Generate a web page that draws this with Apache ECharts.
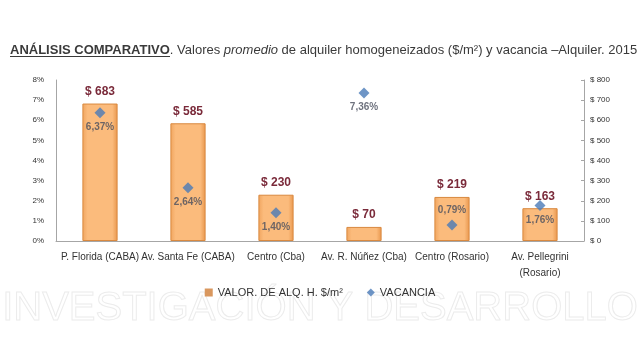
<!DOCTYPE html>
<html><head><meta charset="utf-8">
<script src="https://cdn.jsdelivr.net/npm/echarts@6/dist/echarts.min.js"></script>
<style>html,body{margin:0;padding:0;background:#fff}#c{width:640px;height:345px}</style>
</head><body><div id="c"></div>
<script>
const categories = ['P. Florida (CABA)', 'Av. Santa Fe (CABA)', 'Centro (Cba)', 'Av. R. Núñez (Cba)', 'Centro (Rosario)', 'Av. Pellegrini\n(Rosario)'];
const valorAlq = [683, 585, 230, 70, 219, 163];
const vacancia = [6.37, 2.64, 1.40, 7.36, 0.79, 1.76];
const vacLabelPos = ['bottom', 'bottom', 'bottom', 'bottom', 'top', 'bottom'];
const leftTicks = [0, 1, 2, 3, 4, 5, 6, 7, 8];
const rightTicks = [0, 100, 200, 300, 400, 500, 600, 700, 800];

const FONT = '"Liberation Sans", sans-serif';
const chart = echarts.init(document.getElementById('c'));
chart.setOption({
  animation: false,
  textStyle: { fontFamily: FONT },
  title: {
    left: 5, top: 39,
    text: '{b|ANÁLISIS COMPARATIVO}{n|. Valores }{i|promedio}{n| de alquiler homogeneizados ($/m²) y vacancia –Alquiler. 2015}',
    textStyle: {
      fontWeight: 'normal',
      rich: {
        b: { fontFamily: FONT, fontSize: 13, fontWeight: 'bold', color: '#3a3a3a' },
        n: { fontFamily: FONT, fontSize: 13, fontWeight: 'normal', color: '#3a3a3a' },
        i: { fontFamily: FONT, fontSize: 13, fontWeight: 'normal', color: '#3a3a3a', fontStyle: 'italic' }
      }
    }
  },
  graphic: [{
    type: 'text', left: 'center', top: 288, z: -1,
    style: { text: 'INVESTIGACIÓN Y DESARROLLO', font: '40px ' + FONT, fill: 'rgba(255,255,255,0)', stroke: '#ececec', lineWidth: 1 }
  }, {
    type: 'rect', left: 10, top: 56, shape: { width: 160, height: 1 }, style: { fill: '#3a3a3a' }
  }],
  legend: {
    bottom: 42, left: 'center', itemGap: 24, itemWidth: 8, itemHeight: 8,
    textStyle: { fontFamily: FONT, fontSize: 11, color: '#333' },
    data: [
      { name: 'VALOR. DE ALQ. H. $/m²', icon: 'rect', itemStyle: { color: '#d9975e', borderWidth: 0 } },
      { name: 'VACANCIA', icon: 'diamond', itemStyle: { color: '#4a7ab8' } }
    ]
  },
  grid: { left: 56, right: 56, top: 80, bottom: 104 },
  xAxis: {
    type: 'category', data: categories,
    axisLine: { lineStyle: { color: '#a6a6a6' } },
    axisTick: { show: false },
    axisLabel: { color: '#333', fontSize: 10, fontFamily: FONT, margin: 8, interval: 0, lineHeight: 16 }
  },
  yAxis: [{
    type: 'value', min: 0, max: 8, interval: 1, position: 'left',
    axisLine: { show: true, lineStyle: { color: '#a6a6a6' } },
    axisTick: { show: false },
    splitLine: { show: false },
    axisLabel: { color: '#333', fontSize: 8, fontFamily: FONT, margin: 12, formatter: v => leftTicks.includes(v) ? v + '%' : '' }
  }, {
    type: 'value', min: 0, max: 800, interval: 100, position: 'right',
    axisLine: { show: true, lineStyle: { color: '#a6a6a6' } },
    axisTick: { show: true, inside: true, length: 3, lineStyle: { color: '#a6a6a6' } },
    splitLine: { show: false },
    axisLabel: { color: '#333', fontSize: 8, fontFamily: FONT, margin: 6, formatter: v => rightTicks.includes(v) ? '$ ' + v : '' }
  }],
  series: [{
    name: 'VALOR. DE ALQ. H. $/m²', type: 'bar', yAxisIndex: 1, data: valorAlq, barWidth: '40%',
    itemStyle: {
      color: new echarts.graphic.LinearGradient(0, 0, 1, 0, [
        { offset: 0, color: '#f0a55f' }, { offset: 0.15, color: '#fbbb7c' },
        { offset: 0.85, color: '#fbbb7c' }, { offset: 1, color: '#e8964c' }]),
      borderColor: '#d9893f', borderWidth: 1
    },
    label: { show: true, position: 'top', distance: 6, formatter: p => '$ ' + p.value, color: '#7a2a3a', fontWeight: 'bold', fontSize: 12, fontFamily: FONT }
  }, {
    name: 'VACANCIA', type: 'scatter', yAxisIndex: 0, symbol: 'diamond', symbolSize: 11,
    data: vacancia.map((v, i) => ({ value: v, label: { position: vacLabelPos[i] } })),
    itemStyle: { color: '#4a7ab8' },
    label: { show: true, distance: 4, formatter: p => p.value.toFixed(2).replace('.', ',') + '%', color: '#4a4f5e', fontWeight: 'bold', fontSize: 10, fontFamily: FONT }
  }]
});
</script></body></html>
